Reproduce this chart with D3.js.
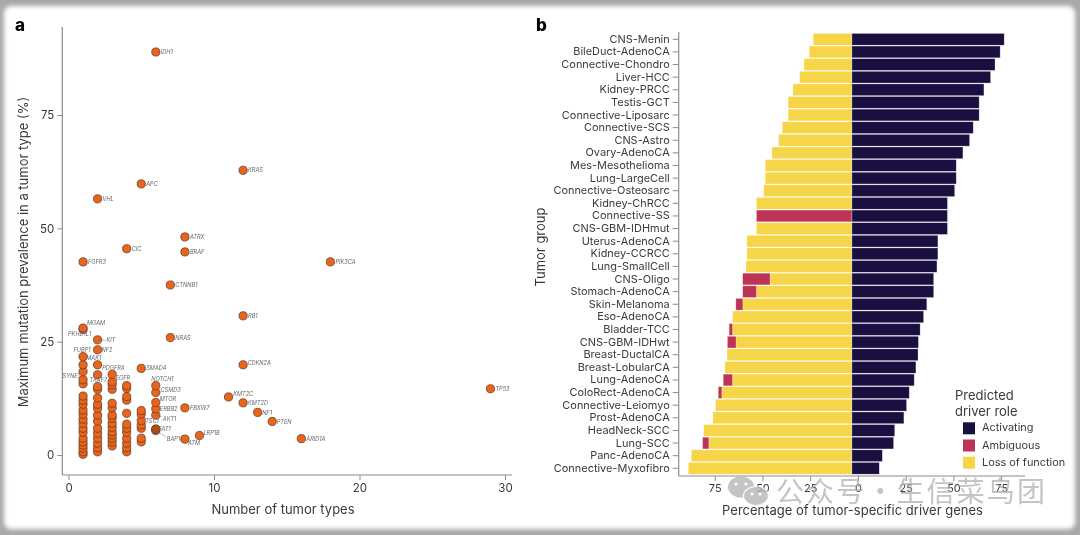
<!DOCTYPE html>
<html><head><meta charset="utf-8">
<script src="https://cdn.jsdelivr.net/npm/d3@7/dist/d3.min.js"></script>
<style>
html,body{margin:0;padding:0;background:#fff;width:1080px;height:535px;overflow:hidden}
svg{display:block;font-family:Inter,"Open Sans",sans-serif}
#art{filter:blur(0.4px)}
</style></head><body>
<svg id="c" width="1080" height="535"></svg>
<script>
// Panel a: labelled driver genes
const genes=["IDH1","KRAS","APC","VHL","ATRX","BRAF","CIC","FGFR3","PIK3CA","CTNNB1","RB1","NRAS","MGAM","PKHD1L1","KIT","NF2","FUBP1","MAK1","PDGFRA","SMAD4","SYNE1","TRAF7","EGFR","NOTCH1","CSMD3","MTOR","ERBB2","AKT1","TSC1","FAT1","BAP1","ATM","LRP1B","FBXW7","CDKN2A","KMT2C","KMT2D","NF1","PTEN","ARID1A","TP53"];
const geneTypes=[6,12,5,2,8,8,4,1,18,7,12,7,1,1,2,2,1,2,3,5,1,2,4,6,6,6,6,6,5,6,6,8,9,8,12,11,12,13,14,16,29];
const genePrev=[88.9,62.8,59.8,56.5,48.1,44.8,45.5,42.6,42.6,37.5,30.7,25.9,28,27.7,25.4,23.2,21.7,19.9,17.8,19.1,18.4,17.7,15.3,15.3,13.8,11.6,10.2,8.8,7.6,5.7,5.4,3.5,4.3,10.4,19.9,12.8,11.5,9.4,7.4,3.6,14.6];
// Panel a: unlabelled genes by number of tumor types
const col1=[19.9,16.6,15.7,13,12.1,11.2,9.9,9,7.9,7,5.9,5,3.7,2.9,2.2,1.5,0.7,0.15];
const col2=[15.1,14.5,12.6,11.2,10.3,8.8,7.5,5.9,4.8,3.7,2.6,1.6,0.7];
const col3=[16.2,15.5,14.5,11.4,10.4,8.8,8.1,7,6.1,5.1,4.4,3.7,2.9,2];
const col4=[14.7,12.9,12.1,9.2,6.8,5.9,5,3.7,2.6,1.6,0.7];
const col5=[9.8,9,6.6,5.9,3.7,2.9];
const col6=[5.7];
// Panel b
const tumors=["CNS-Menin","BileDuct-AdenoCA","Connective-Chondro","Liver-HCC","Kidney-PRCC","Testis-GCT","Connective-Liposarc","Connective-SCS","CNS-Astro","Ovary-AdenoCA","Mes-Mesothelioma","Lung-LargeCell","Connective-Osteosarc","Kidney-ChRCC","Connective-SS","CNS-GBM-IDHmut","Uterus-AdenoCA","Kidney-CCRCC","Lung-SmallCell","CNS-Oligo","Stomach-AdenoCA","Skin-Melanoma","Eso-AdenoCA","Bladder-TCC","CNS-GBM-IDHwt","Breast-DuctalCA","Breast-LobularCA","Lung-AdenoCA","ColoRect-AdenoCA","Connective-Leiomyo","Prost-AdenoCA","HeadNeck-SCC","Lung-SCC","Panc-AdenoCA","Connective-Myxofibro"];
const activating=[79.7,77.6,74.9,72.6,69.1,66.6,66.6,63.5,61.6,58.1,54.6,54.6,53.8,50,50,50,45,45,44.5,42.8,42.8,39.2,37.5,35.7,34.8,34.6,33.5,32.6,30,28.6,27.2,22.4,21.8,15.9,14.3];
const ambiguous=[0,0,0,0,0,0,0,0,0,0,0,0,0,0,50,0,0,0,0,14.3,7.2,3.7,0,1.8,4.5,0,0,4.9,1.9,0,0,0,3.3,0,0];
const lossOfFunction=[20.3,22.4,25.1,27.4,30.9,33.4,33.4,36.5,38.4,41.9,45.4,45.4,46.2,50,0,50,55,55,55.5,42.9,50,57.1,62.5,62.5,60.7,65.4,66.5,62.5,68.1,71.4,72.8,77.6,74.9,84.1,85.7];
const yTicksA=[0,25,50,75], xTicksA=[0,10,20,30], xTicksB=[-75,-50,-25,0,25,50,75];
const legendLabels=["Activating","Ambiguous","Loss of function"];
const legendColors=["#1a0f40","#bd3556","#f7d548"];
const watermark=["公","众","号","·","生","信","菜","鸟","团"];

// label placement relative to the dot, px
const labelOffset={MGAM:[4,-5],PKHD1L1:[-15,5],KIT:[9,0.5],NF2:[4,0],FUBP1:[7.5,-6.7,"end"],MAK1:[-11.3,-7],PDGFRA:[-10,-6.5],SYNE1:[-20.5,4],TRAF7:[-8,5],EGFR:[-11,-7.7],NOTCH1:[-4.5,-6.7],CSMD3:[4.7,-2.3],MTOR:[4,-3.3],ERBB2:[4,0],AKT1:[7,3.7],TSC1:[4,0.5],FAT1:[3,0],BAP1:[11,8.5],ATM:[3,4],LRP1B:[4,-2.5],KMT2C:[4.7,-2.7],CDKN2A:[4.3,-2],NF1:[4.5,0.5],PTEN:[4.5,0.5]};

const axisCol="#8c8c8c", txt="#3a3a3a";
const svg=d3.select("#c");
// frame
const defs=svg.append("defs");
defs.append("filter").attr("id","soft").attr("x","-5%").attr("y","-5%").attr("width","110%").attr("height","110%")
 .append("feGaussianBlur").attr("stdDeviation",2);
svg.append("rect").attr("width",1080).attr("height",535).attr("fill","#a9a9a9");
svg.append("rect").attr("x",4).attr("y",6).attr("width",1071).attr("height",523).attr("rx",7).attr("fill","#fff").attr("filter","url(#soft)");
const g=svg.append("g").attr("id","art");

// ---------- Panel a
const xA=d3.scaleLinear().domain([0,30]).range([68.5,505]);
const yA=d3.scaleLinear().domain([0,75]).range([455,115]);
const axA=g.append("g");
const ax1=axA.append("g").attr("transform","translate(0,475)").call(d3.axisBottom(xA).tickValues(xTicksA).tickSize(5).tickPadding(4));
const ax2=axA.append("g").attr("transform","translate(62.3,0)").call(d3.axisLeft(yA).tickValues(yTicksA).tickSize(5).tickPadding(3));
[ax1,ax2].forEach(a=>{a.select(".domain").remove();a.selectAll("line").attr("stroke",axisCol);a.selectAll("text").attr("fill",txt).style("font-size","11.5px").style("font-family","Inter");});
axA.append("line").attr("x1",62.3).attr("x2",512).attr("y1",475).attr("y2",475).attr("stroke",axisCol).attr("stroke-width",1.2);
axA.append("line").attr("x1",62.3).attr("x2",62.3).attr("y1",27).attr("y2",475).attr("stroke",axisCol).attr("stroke-width",1.2);
g.append("text").attr("x",283).attr("y",514).attr("text-anchor","middle").attr("fill",txt).style("font-size","13px").text("Number of tumor types");
g.append("text").attr("transform","translate(27.5,252) rotate(-90)").attr("text-anchor","middle").attr("fill",txt).style("font-size","13px").text("Maximum mutation prevalence in a tumor type (%)");

const others=[[1,col1],[2,col2],[3,col3],[4,col4],[5,col5],[6,col6]].flatMap(([t,a])=>a.map(v=>({t,v})));
const labelled=genes.map((n,i)=>({n,t:geneTypes[i],v:genePrev[i]}));
const pts=others.concat(labelled);
pts.sort((a,b)=>a.v-b.v);
g.append("g").selectAll("circle").data(pts).join("circle")
 .attr("cx",d=>xA(d.t)).attr("cy",d=>yA(d.v)).attr("r",4.1)
 .attr("fill",d=>d.t===6&&d.v===5.7?"#b84d14":"#e9651c").attr("stroke","#6b3f28").attr("stroke-width",0.8);
const lab=g.append("g");
labelled.forEach(d=>{
  const o=labelOffset[d.n]||[5,0];
  const x=xA(d.t)+o[0], y=yA(d.v)+o[1];
  if(d.n==="KIT"||d.n==="BAP1"||d.n==="AKT1"){
    lab.append("line").attr("x1",xA(d.t)).attr("y1",yA(d.v)).attr("x2",x-1).attr("y2",y-(d.n==="KIT"?0:2)).attr("stroke","#555").attr("stroke-width",0.4);
  }
  lab.append("text").attr("x",x).attr("y",y).attr("dy","0.35em").attr("text-anchor",o[2]||"start")
   .attr("fill","#666").style("font-size","5.6px").style("font-style","italic").text(d.n);
});
g.append("text").attr("x",15).attr("y",31).attr("font-weight",800).attr("fill","#000").style("font-size","17px").text("a");

// ---------- Panel b
const xB=d3.scaleLinear().domain([-90.7,90.6]).range([678.7,1025]);
const yB=d3.scaleBand().domain(tumors).range([33,474.6]).paddingInner(0.07).paddingOuter(0.035);
const rows=tumors.map((t,i)=>({t,a:activating[i],m:ambiguous[i],l:lossOfFunction[i]}));
const bars=g.append("g").attr("stroke","#fff").attr("stroke-opacity",0.45).attr("stroke-width",0.6);
const rect=(sel,x0,x1,c)=>sel.attr("y",d=>yB(d.t)).attr("height",yB.bandwidth()).attr("x",d=>xB(x0(d))).attr("width",d=>xB(x1(d))-xB(x0(d))).attr("fill",c);
bars.selectAll(".l").data(rows).join("rect").call(rect,d=>-d.l,d=>0,legendColors[2]);
bars.selectAll(".m").data(rows.filter(d=>d.m>0)).join("rect").call(rect,d=>-d.l-d.m,d=>-d.l,legendColors[1]);
bars.selectAll(".a").data(rows).join("rect").call(rect,d=>0,d=>d.a,legendColors[0]);

const ax3=g.append("g").attr("transform","translate(6,476)").call(d3.axisBottom(xB).tickValues(xTicksB).tickFormat(d=>Math.abs(d)).tickSize(5).tickPadding(3));
ax3.select(".domain").remove();
const ax4=g.append("g").attr("transform","translate(678.7,0)").call(d3.axisLeft(yB).tickSize(6).tickPadding(3));
ax4.select(".domain").remove();
[ax3,ax4].forEach(a=>{a.selectAll("line").attr("stroke",axisCol);a.selectAll("text").attr("fill",txt).style("font-family","Inter").style("font-size","10.95px");});
g.append("line").attr("x1",678.7).attr("x2",1025).attr("y1",476).attr("y2",476).attr("stroke",axisCol).attr("stroke-width",1.2);
g.append("line").attr("x1",678.7).attr("x2",678.7).attr("y1",32).attr("y2",476).attr("stroke",axisCol).attr("stroke-width",1.2);
g.append("text").attr("x",852.5).attr("y",515).attr("text-anchor","middle").attr("fill",txt).style("font-size","13px").text("Percentage of tumor-specific driver genes");
g.append("text").attr("transform","translate(545,247) rotate(-90)").attr("text-anchor","middle").attr("fill",txt).style("font-size","13px").text("Tumor group");
g.append("text").attr("x",536).attr("y",31).attr("font-weight",800).attr("fill","#000").style("font-size","17px").text("b");

// legend
const leg=g.append("g");
leg.append("text").attr("x",955).attr("y",400).attr("fill",txt).style("font-size","13px").text("Predicted");
leg.append("text").attr("x",955).attr("y",416).attr("fill",txt).style("font-size","13px").text("driver role");
legendLabels.forEach((l,i)=>{
  const y=422.3+i*17.2;
  leg.append("rect").attr("x",963).attr("y",y).attr("width",12).attr("height",12).attr("fill",legendColors[i]);
  leg.append("text").attr("x",982).attr("y",y+9).attr("fill",txt).style("font-size","10.9px").text(l);
});

// watermark
const wm=g.append("g").attr("fill","#b0b0b0").attr("opacity",0.75);
wm.append("ellipse").attr("cx",741).attr("cy",487).attr("rx",13).attr("ry",10.5);
wm.append("ellipse").attr("cx",756).attr("cy",496).attr("rx",12.5).attr("ry",9.5).attr("stroke","#fff").attr("stroke-width",1.2);
[[736,484],[746,484],[752,494],[760,494]].forEach(p=>wm.append("circle").attr("cx",p[0]).attr("cy",p[1]).attr("r",1.6).attr("fill","#fff"));
const wmX=d3.scalePoint().domain(d3.range(watermark.length)).range([790,1031]);
wm.selectAll("text").data(watermark).join("text").attr("x",(d,i)=>wmX(i)).attr("y",502).attr("text-anchor","middle")
  .style("font-family","'Noto Sans CJK SC'").style("font-size","28px").style("font-weight",400).text(d=>d);
</script>
</body></html>
